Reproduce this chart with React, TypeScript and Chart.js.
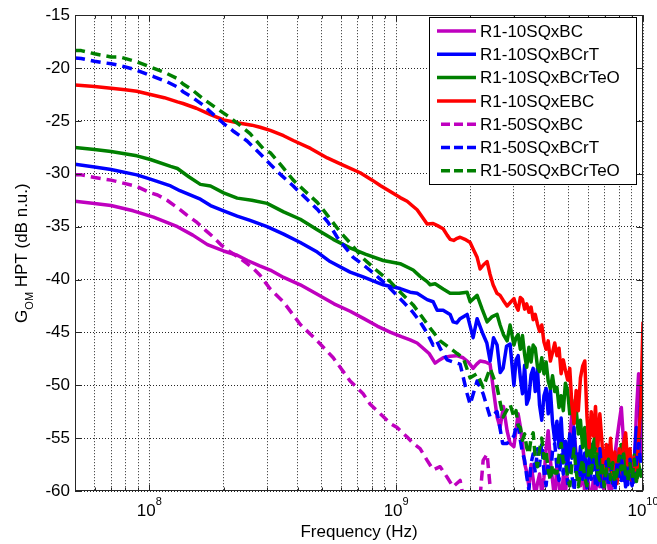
import React, { useEffect, useRef } from "react";
import { Chart, registerables } from "chart.js";

Chart.register(...registerables);

const FONT_FAMILY = '"Liberation Sans", Arial, Helvetica, sans-serif';

// ---------------- data: frequency in MHz, gain in dB n.u. ----------------
// smooth part of each curve (below 3 GHz)
const freq10SQxBC = [50, 60, 70, 86, 104, 130, 150, 172, 200, 227, 250, 280, 309, 350, 409, 479, 560, 651, 740, 838, 950, 1050, 1139, 1216, 1286, 1360, 1438, 1500, 1550, 1654, 1760, 1868, 1960, 2050, 2120, 2189, 2300, 2402, 2480, 2564, 2637, 2720, 2815, 2894];
const gain10SQxBC = [-32.6, -32.8, -33.0, -33.5, -34.1, -35.0, -35.8, -36.7, -37.3, -37.7, -38.2, -38.7, -39.1, -39.8, -40.5, -41.4, -42.3, -43.0, -43.7, -44.4, -45.0, -45.4, -45.7, -46.0, -46.5, -47.0, -47.9, -47.6, -47.4, -47.25, -47.2, -47.4, -47.8, -48.4, -48.0, -47.7, -47.8, -48.0, -50.5, -53.0, -54.0, -52.0, -54.3, -55.5];

const freq10SQxBCrT = [50, 60, 70, 89, 101, 122, 133, 161, 177, 200, 227, 256, 300, 350, 409, 479, 540, 651, 735, 886, 1038, 1139, 1216, 1335, 1412, 1466, 1550, 1654, 1701, 1760, 1816, 1939, 2050, 2128, 2251, 2330, 2402, 2480, 2564, 2640, 2712, 2800, 2894];
const gain10SQxBCrT = [-29.1, -29.35, -29.6, -30.1, -30.5, -31.15, -31.6, -32.4, -33.0, -33.5, -34.0, -34.4, -35.0, -35.7, -36.5, -37.4, -38.3, -39.3, -39.75, -40.5, -40.85, -41.2, -41.3, -41.9, -42.1, -42.9, -42.9, -43.3, -44.0, -44.1, -43.7, -43.3, -45.5, -43.7, -45.2, -46.0, -47.7, -45.5, -46.2, -48.8, -48.4, -46.3, -46.1];

const freq10SQxBCrTeO = [50, 60, 70, 89, 101, 122, 130, 145, 161, 177, 200, 227, 260, 300, 350, 409, 479, 556, 650, 750, 886, 1038, 1172, 1250, 1335, 1373, 1438, 1550, 1654, 1800, 1939, 1994, 2128, 2230, 2336, 2450, 2564, 2637, 2720, 2815, 2894];
const gain10SQxBCrTeO = [-27.5, -27.7, -27.9, -28.3, -28.65, -29.3, -29.5, -30.3, -31.0, -31.15, -31.8, -32.3, -32.5, -32.8, -33.6, -34.3, -35.3, -36.2, -37.0, -37.6, -38.2, -38.5, -39.1, -39.7, -40.2, -40.5, -40.4, -40.9, -41.3, -41.3, -41.2, -42.1, -41.5, -42.8, -44.0, -43.5, -43.3, -44.3, -45.2, -45.8, -44.3];

const freq10SQxEBC = [50, 60, 70, 80, 89, 101, 115, 130, 137, 155, 177, 200, 230, 260, 281, 309, 350, 383, 450, 526, 600, 715, 800, 862, 950, 1038, 1108, 1160, 1216, 1286, 1335, 1412, 1470, 1550, 1609, 1654, 1710, 1766, 1816, 1900, 1994, 2060, 2128, 2189, 2260, 2336, 2400, 2470, 2560, 2637, 2720, 2815, 2894];
const gain10SQxEBC = [-21.6, -21.75, -21.9, -22.05, -22.2, -22.5, -22.8, -23.2, -23.35, -23.8, -24.4, -24.9, -25.2, -25.4, -25.6, -25.9, -26.4, -26.85, -27.6, -28.5, -29.1, -29.9, -30.6, -31.1, -31.7, -32.25, -32.6, -33.0, -33.4, -34.2, -34.75, -34.7, -34.9, -35.2, -35.8, -36.2, -36.3, -36.1, -36.0, -36.2, -36.5, -37.2, -37.9, -39.0, -38.6, -38.3, -39.5, -40.5, -41.3, -41.5, -42.0, -42.5, -42.2];

const freq50SQxBC = [50, 53, 60, 70, 76, 89, 101, 108, 118, 130, 142, 156, 170, 182, 197, 213, 230, 249, 265, 281, 309, 349, 409, 479, 556, 651, 735, 785, 862, 946, 1009, 1108, 1172, 1250, 1335, 1412, 1507, 1609, 1701, 1816, 1868, 1950, 2100, 2189, 2251, 2336, 2402, 2470, 2600, 3000, 4000, 6000, 10000];
const gain50SQxBC = [-30.1, -30.1, -30.35, -30.6, -30.8, -31.2, -31.8, -32.0, -32.5, -33.2, -33.9, -34.6, -35.4, -36.0, -36.8, -37.4, -37.9, -38.5, -39.0, -39.6, -40.9, -42.1, -44.25, -45.8, -47.4, -49.6, -50.8, -51.8, -52.7, -53.6, -54.0, -54.9, -55.5, -56.0, -57.1, -58.0, -57.7, -58.7, -59.6, -59.0, -60.5, -62.0, -62.0, -60.5, -57.1, -56.5, -59.6, -62.0, -63, -63, -64, -64, -65];

const freq50SQxBCrT = [50, 53, 60, 70, 76, 89, 101, 104, 118, 133, 137, 150, 165, 182, 199, 220, 249, 281, 309, 345, 383, 430, 479, 530, 577, 670, 735, 800, 886, 970, 1067, 1160, 1251, 1330, 1412, 1460, 1507, 1609, 1700, 1816, 1939, 1994, 2128, 2251, 2402, 2564, 2700, 2815];
const gain50SQxBCrT = [-19.05, -19.1, -19.35, -19.6, -19.75, -20.2, -20.7, -20.8, -21.3, -21.9, -22.25, -22.8, -23.5, -24.4, -25.2, -26.0, -26.9, -28.1, -29.1, -30.2, -31.15, -32.3, -33.35, -34.6, -36.0, -37.9, -38.6, -39.3, -40.2, -41.1, -42.1, -43.0, -44.0, -45.0, -46.2, -45.8, -46.5, -47.6, -47.8, -48.0, -50.8, -51.8, -49.6, -50.8, -53.0, -52.5, -55.5, -55.5];

const freq50SQxBCrTeO = [50, 53, 60, 70, 76, 89, 101, 115, 130, 137, 150, 165, 182, 207, 230, 256, 289, 309, 345, 383, 430, 479, 530, 593, 660, 735, 830, 946, 1050, 1172, 1270, 1373, 1507, 1654, 1766, 1868, 1994, 2128, 2251, 2402, 2564, 2712, 2894];
const gain50SQxBCrTeO = [-18.35, -18.35, -18.65, -18.95, -18.95, -19.4, -19.9, -20.4, -21.0, -21.5, -22.1, -22.9, -23.6, -24.5, -25.3, -26.2, -27.6, -28.0, -29.3, -30.6, -31.7, -32.7, -34.0, -35.5, -36.7, -38.0, -39.1, -40.2, -41.3, -42.4, -43.5, -44.6, -45.8, -46.5, -47.0, -47.4, -49.3, -48.9, -50.2, -48.4, -50.2, -53.0, -51.8];

// noisy high-frequency part (3 GHz .. 10 GHz), shared frequency points
const tailFreq = [3000, 3060, 3120, 3185, 3250, 3315, 3380, 3450, 3520, 3590, 3660, 3735, 3810, 3890, 3970, 4050, 4130, 4215, 4300, 4390, 4480, 4570, 4660, 4755, 4850, 4950, 5050, 5150, 5255, 5360, 5470, 5580, 5695, 5810, 5930, 6050, 6170, 6295, 6420, 6550, 6685, 6820, 6960, 7100, 7245, 7390, 7540, 7695, 7850, 8010, 8170, 8335, 8505, 8680, 8855, 9035, 9220, 9405, 9600, 9800, 10000];
const tail10SQxBC = [-55.8, -54.2, -52.7, -53.9, -55.6, -57.4, -58.2, -59.6, -57.5, -58.9, -60.5, -59.3, -58.4, -60.2, -58.7, -56.0, -54.3, -57.1, -59.0, -60.8, -57.5, -59.4, -61.0, -58.6, -60.2, -57.8, -55.0, -52.7, -54.5, -56.5, -58.6, -59.5, -57.4, -60.3, -58.2, -59.9, -61.0, -58.8, -60.4, -57.9, -59.6, -58.1, -60.2, -57.7, -59.3, -61.0, -58.5, -56.6, -55.0, -53.5, -52.1, -55.2, -58.0, -59.0, -57.0, -59.4, -58.0, -52.5, -48.9, -55.9, -57.0];
const tail10SQxBCrT = [-50.0, -47.6, -47.2, -49.3, -50.8, -48.1, -51.8, -51.2, -49.0, -48.4, -50.6, -48.4, -51.9, -53.3, -51.0, -50.3, -52.7, -50.4, -53.5, -55.2, -53.4, -55.9, -53.1, -56.8, -55.3, -57.4, -54.6, -56.9, -54.0, -57.6, -58.3, -55.8, -58.9, -56.4, -59.2, -57.0, -55.6, -58.0, -56.8, -59.4, -57.3, -59.6, -56.2, -58.6, -55.7, -57.9, -59.3, -56.6, -58.8, -56.1, -59.0, -57.2, -59.6, -56.9, -58.4, -59.5, -57.1, -54.0, -56.8, -51.0, -48.3];
const tail10SQxBCrTeO = [-46.2, -45.5, -45.2, -46.6, -45.3, -47.1, -48.3, -46.4, -47.8, -46.2, -46.5, -48.2, -48.7, -47.4, -48.9, -47.8, -49.6, -50.3, -49.1, -50.6, -50.2, -52.1, -51.0, -52.4, -49.8, -50.5, -52.7, -51.4, -53.6, -52.2, -54.6, -53.3, -55.9, -54.0, -56.7, -55.1, -57.3, -55.5, -54.6, -57.8, -56.0, -58.2, -56.4, -58.6, -55.8, -57.4, -59.2, -56.9, -58.7, -57.1, -55.6, -58.0, -56.3, -59.0, -57.2, -58.9, -56.6, -59.1, -57.4, -58.6, -58.3];
const tail10SQxEBC = [-41.8, -42.5, -42.9, -41.7, -41.9, -42.8, -42.3, -43.1, -42.6, -43.8, -43.3, -44.2, -44.9, -44.3, -45.9, -46.6, -45.8, -47.7, -46.9, -46.0, -47.2, -46.5, -48.9, -47.6, -48.6, -49.5, -48.4, -51.8, -53.6, -50.5, -52.4, -49.3, -48.2, -47.7, -53.0, -55.9, -52.5, -54.8, -52.0, -56.2, -52.7, -55.4, -59.0, -55.6, -57.9, -55.0, -58.7, -56.3, -59.3, -56.0, -58.4, -55.6, -54.5, -57.7, -56.0, -59.0, -56.8, -58.9, -55.2, -52.0, -44.0];
const tail50SQxBCrT = [-54.8, -53.9, -53.6, -55.2, -56.4, -57.1, -58.6, -59.9, -57.4, -56.5, -58.3, -56.0, -57.6, -55.5, -58.2, -59.5, -57.3, -58.9, -56.2, -55.5, -57.8, -59.0, -56.6, -58.4, -56.5, -59.3, -57.0, -58.5, -60.0, -57.4, -56.5, -58.8, -57.2, -58.5, -59.7, -57.0, -58.9, -56.8, -59.5, -57.6, -56.0, -58.4, -59.0, -57.2, -59.6, -57.5, -58.8, -60.0, -57.3, -58.6, -56.5, -59.0, -57.8, -59.4, -57.0, -58.7, -59.5, -57.2, -55.5, -57.5, -58.0];
const tail50SQxBCrTeO = [-53.0, -52.4, -53.8, -54.0, -55.2, -54.6, -55.9, -56.5, -55.0, -54.5, -56.8, -57.7, -56.1, -55.0, -56.9, -56.2, -58.0, -59.0, -57.5, -58.3, -58.3, -56.6, -55.5, -57.3, -57.1, -58.7, -59.5, -57.6, -56.0, -58.1, -59.6, -58.0, -57.0, -58.8, -59.5, -57.7, -58.3, -56.4, -56.0, -58.5, -59.0, -57.2, -59.6, -58.0, -57.0, -58.9, -57.3, -59.2, -58.3, -56.7, -58.0, -56.5, -58.6, -59.0, -57.4, -58.8, -57.0, -59.3, -57.6, -58.4, -58.0];

const seriesNames = ["R1-10SQxBC", "R1-10SQxBCrT", "R1-10SQxBCrTeO", "R1-10SQxEBC", "R1-50SQxBC", "R1-50SQxBCrT", "R1-50SQxBCrTeO"];
const seriesFreqs = [
  freq10SQxBC.concat(tailFreq),
  freq10SQxBCrT.concat(tailFreq),
  freq10SQxBCrTeO.concat(tailFreq),
  freq10SQxEBC.concat(tailFreq),
  freq50SQxBC,
  freq50SQxBCrT.concat(tailFreq),
  freq50SQxBCrTeO.concat(tailFreq),
];
const seriesGains = [
  gain10SQxBC.concat(tail10SQxBC),
  gain10SQxBCrT.concat(tail10SQxBCrT),
  gain10SQxBCrTeO.concat(tail10SQxBCrTeO),
  gain10SQxEBC.concat(tail10SQxEBC),
  gain50SQxBC,
  gain50SQxBCrT.concat(tail50SQxBCrT),
  gain50SQxBCrTeO.concat(tail50SQxBCrTeO),
];
const seriesColors = ["#BF00BF", "#0000FF", "#008000", "#FF0000", "#BF00BF", "#0000FF", "#008000"];
const seriesDashed = [false, false, false, false, true, true, true];

const yTickValues = [-60, -55, -50, -45, -40, -35, -30, -25, -20, -15];
const xDecadeExponents = [8, 9, 10];
const X_MIN_HZ = 5e7;
const X_MAX_HZ = 1e10;
const Y_MIN = -60;
const Y_MAX = -15;
const xLabel = "Frequency (Hz)";
const yLabelMain = "G";
const yLabelSub = "OM";
const yLabelRest = " HPT (dB n.u.)";

const xGridValues: number[] = [];
for (let e = 7; e <= 9; e++) {
  for (let k = 1; k <= 9; k++) {
    const v = k * Math.pow(10, e);
    if (v >= X_MIN_HZ && v <= X_MAX_HZ) xGridValues.push(v);
  }
}
xGridValues.push(X_MAX_HZ);

const isDecade = (v: number) => Math.abs(Math.log10(v) - Math.round(Math.log10(v))) < 1e-9;

const DASH = [10, 6];

const decorPlugin = {
  id: "matlabDecor",
  beforeDraw(chart: any) {
    const { ctx, width, height } = chart;
    ctx.save();
    ctx.fillStyle = "#ffffff";
    ctx.fillRect(0, 0, width, height);
    ctx.restore();
  },
  afterDraw(chart: any) {
    const { ctx, chartArea: a, scales } = chart;
    const xs = scales.x;
    const ys = scales.y;
    ctx.save();
    ctx.setLineDash([]);
    const L = Math.round(a.left) + 0.5;
    const R = Math.round(a.right) - 0.5;
    const T = Math.round(a.top) + 0.5;
    const B = Math.round(a.bottom) - 0.5;
    ctx.strokeStyle = "#262626";
    ctx.lineWidth = 1;
    ctx.strokeRect(L, T, R - L, B - T);
    ctx.beginPath();
    for (const v of xGridValues) {
      const px = Math.round(xs.getPixelForValue(v)) + 0.5;
      const len = isDecade(v) ? 6 : 3;
      ctx.moveTo(px, B);
      ctx.lineTo(px, B - len);
      ctx.moveTo(px, T);
      ctx.lineTo(px, T + len);
    }
    for (const v of yTickValues) {
      const py = Math.round(ys.getPixelForValue(v)) + 0.5;
      ctx.moveTo(L, py);
      ctx.lineTo(L + 6, py);
      ctx.moveTo(R, py);
      ctx.lineTo(R - 6, py);
    }
    ctx.stroke();

    // x tick labels 10^n
    ctx.fillStyle = "#000";
    ctx.textAlign = "left";
    ctx.textBaseline = "alphabetic";
    for (const e of xDecadeExponents) {
      const px = xs.getPixelForValue(Math.pow(10, e));
      ctx.font = `17px ${FONT_FAMILY}`;
      const w1 = ctx.measureText("10").width;
      ctx.font = `11px ${FONT_FAMILY}`;
      const w2 = ctx.measureText(String(e)).width;
      const start = px - (w1 + w2) / 2;
      ctx.font = `17px ${FONT_FAMILY}`;
      ctx.fillText("10", start, 516);
      ctx.font = `11px ${FONT_FAMILY}`;
      ctx.fillText(String(e), start + w1, 505);
    }

    // x axis label
    ctx.font = `17px ${FONT_FAMILY}`;
    ctx.textAlign = "center";
    ctx.fillText(xLabel, (a.left + a.right) / 2, 537);

    // y axis label with subscript
    ctx.save();
    ctx.translate(27, (a.top + a.bottom) / 2);
    ctx.rotate(-Math.PI / 2);
    ctx.textAlign = "left";
    ctx.font = `17px ${FONT_FAMILY}`;
    const wG = ctx.measureText(yLabelMain).width;
    const wR = ctx.measureText(yLabelRest).width;
    ctx.font = `11px ${FONT_FAMILY}`;
    const wS = ctx.measureText(yLabelSub).width;
    let cx = -(wG + wS + wR) / 2;
    ctx.font = `17px ${FONT_FAMILY}`;
    ctx.fillText(yLabelMain, cx, 0);
    cx += wG;
    ctx.font = `11px ${FONT_FAMILY}`;
    ctx.fillText(yLabelSub, cx, 6);
    cx += wS;
    ctx.font = `17px ${FONT_FAMILY}`;
    ctx.fillText(yLabelRest, cx, 0);
    ctx.restore();

    // legend
    const lx0 = 429.5, ly0 = 17.5, lw = 207, lh = 167;
    ctx.fillStyle = "#fff";
    ctx.fillRect(lx0, ly0, lw, lh);
    ctx.strokeStyle = "#000";
    ctx.lineWidth = 1;
    ctx.strokeRect(lx0, ly0, lw, lh);
    ctx.font = `17px ${FONT_FAMILY}`;
    ctx.textBaseline = "middle";
    ctx.textAlign = "left";
    seriesNames.forEach((name, i) => {
      const y = 31 + i * 23.3;
      ctx.strokeStyle = seriesColors[i];
      ctx.lineWidth = 3.5;
      ctx.setLineDash(seriesDashed[i] ? [9, 4] : []);
      ctx.beginPath();
      ctx.moveTo(seriesDashed[i] ? 441 : 437, y);
      ctx.lineTo(476, y);
      ctx.stroke();
      ctx.setLineDash([]);
      ctx.fillStyle = "#000";
      ctx.fillText(name, 480, y + 1);
    });
    ctx.restore();
  },
};

export default function App() {
  const canvasRef = useRef<HTMLCanvasElement | null>(null);

  useEffect(() => {
    const canvas = canvasRef.current;
    if (!canvas) return;
    const chart = new Chart(canvas, {
      type: "line",
      data: {
        datasets: seriesNames.map((name, i) => ({
          label: name,
          data: seriesFreqs[i].map((f, j) => ({ x: f * 1e6, y: seriesGains[i][j] })),
          borderColor: seriesColors[i],
          backgroundColor: seriesColors[i],
          borderWidth: 3.5,
          borderDash: seriesDashed[i] ? DASH : [],
          borderJoinStyle: "round",
          pointRadius: 0,
          tension: 0,
          fill: false,
          order: seriesNames.length - i,
        })),
      },
      options: {
        animation: false,
        responsive: false,
        events: [],
        layout: { padding: { top: 11, right: 14, left: 0, bottom: 0 } },
        plugins: { legend: { display: false }, tooltip: { enabled: false } },
        scales: {
          x: {
            type: "logarithmic",
            min: X_MIN_HZ,
            max: X_MAX_HZ,
            afterBuildTicks: (scale: any) => {
              scale.ticks = xGridValues.map((v) => ({ value: v }));
            },
            afterFit: (scale: any) => {
              scale.height = 53;
            },
            ticks: { display: false },
            grid: { color: "rgba(0,0,0,0.85)", lineWidth: 1, drawTicks: false },
            border: { display: false, dash: [1, 2] },
          },
          y: {
            type: "linear",
            min: Y_MIN,
            max: Y_MAX,
            afterBuildTicks: (scale: any) => {
              scale.ticks = yTickValues.map((v) => ({ value: v }));
            },
            afterFit: (scale: any) => {
              scale.width = 75;
            },
            ticks: {
              color: "#000",
              padding: 5,
              font: { family: FONT_FAMILY, size: 17 },
              callback: (v: any) => String(v),
            },
            grid: { color: "rgba(0,0,0,0.85)", lineWidth: 1, drawTicks: false },
            border: { display: false, dash: [1, 2] },
          },
        },
      },
      plugins: [decorPlugin],
    } as any);
    return () => chart.destroy();
  }, []);

  return (
    <div style={{ position: "absolute", left: 0, top: 0, width: 657, height: 544 }}>
      <canvas ref={canvasRef} width={657} height={544} style={{ display: "block" }} />
    </div>
  );
}
